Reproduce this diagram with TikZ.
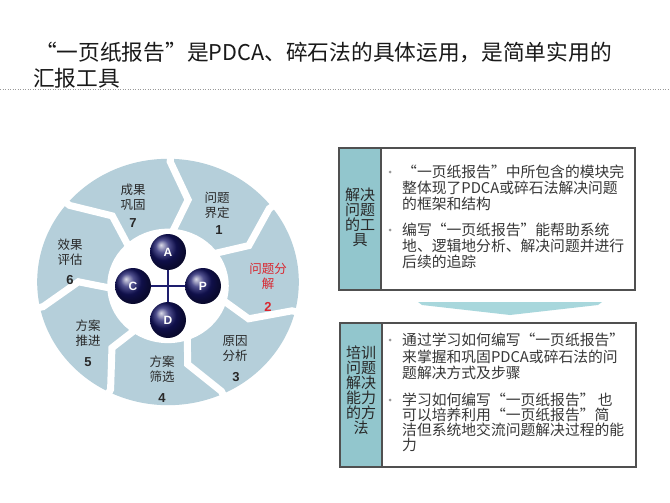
\documentclass[tikz,border=0pt]{standalone}
\usepackage{fontspec}
\setmainfont{Noto Sans CJK SC}
\newfontfamily\arialf{Liberation Sans}
\definecolor{segfill}{RGB}{181,207,218}
\definecolor{tealcell}{RGB}{146,198,205}
\definecolor{arrowfill}{RGB}{168,215,220}
\definecolor{navyball}{RGB}{22,22,105}
\definecolor{navyline}{RGB}{30,30,110}
\definecolor{redtxt}{RGB}{217,38,47}
\definecolor{txtdark}{RGB}{40,40,40}
\definecolor{bodytxt}{RGB}{55,55,55}
\definecolor{boxborder}{RGB}{80,80,80}
\begin{document}
\begin{tikzpicture}[x=1pt,y=-1pt,
  titletxt/.style={font=\fontsize{21.7}{24}\selectfont, text=black!90, inner sep=0, anchor=west},
  segtxt/.style={font=\fontsize{12.5}{15}\selectfont, text=txtdark, align=center, inner sep=0},
  segnum/.style={font=\arialf\bfseries\fontsize{13}{13}\selectfont, text=txtdark, inner sep=0},
  ballnode/.style={circle, minimum size=36pt, inner sep=0, shading=ball, ball color=navyball, text=white, font=\arialf\bfseries\fontsize{12}{12}\selectfont},
  crossline/.style={draw=navyline, line width=1.6pt},
  gapline/.style={draw=white, line width=7pt, line join=miter, line cap=butt},
  boxframe/.style={draw=boxborder, line width=1.3pt},
  celltxt/.style={font=\fontsize{15}{15}\selectfont, text=txtdark, align=center, inner sep=0},
  bodyline/.style={font=\fontsize{14.8}{16}\selectfont, text=bodytxt, inner sep=0, anchor=west},
  bulletdot/.style={circle, fill=gray!80, inner sep=0, minimum size=3pt},
  dotline/.style={draw=gray!80, line width=0.8pt, dash pattern=on 1.2pt off 1.3pt}
]
\useasboundingbox (0,0) rectangle (670,503);
\fill[white] (0,0) rectangle (670,503);

% title
\node[titletxt] (t1) at (35,52) {“一页纸报告”是PDCA、碎石法的具体运用，是简单实用的};
\node[titletxt] (t2) at (33,78) {汇报工具};
\coordinate (dl) at (0,89);
\coordinate (dr) at (670,89);
\draw[dotline] (dl) -- (dr);

% ring
\begin{scope}[shift={(168,282)}, x=1.03pt, y=0.97pt]
  \fill[segfill] (0,0) circle (127);
  \fill[white] (0,-4) circle (59);
  \foreach \k in {0,...,6} {
    \pgfmathsetmacro{\a}{89-51.4286*\k}
    \draw[gapline] (\a:140) -- (\a:124) -- ({\a-12}:87) -- ({\a-3}:50);
  }
\end{scope}

% segment labels
\node[segtxt] (s7) at (133,197) {成果\\巩固};
\node[segnum] (n7) at (133,223) {7};
\node[segtxt] (s1) at (217,205) {问题\\界定};
\node[segnum] (n1) at (219,230) {1};
\node[segtxt, text=redtxt] (s2) at (268,276) {问题分\\解};
\node[segnum, text=redtxt] (n2) at (268,307) {2};
\node[segtxt] (s3) at (235,349) {原因\\分析};
\node[segnum] (n3) at (236,377) {3};
\node[segtxt] (s4) at (162,369.5) {方案\\筛选};
\node[segnum] (n4) at (162,398) {4};
\node[segtxt] (s5) at (88,333) {方案\\推进};
\node[segnum] (n5) at (88,362) {5};
\node[segtxt] (s6) at (70,252) {效果\\评估};
\node[segnum] (n6) at (70,280) {6};

% PDCA balls
\node[ballnode] (A) at (168,252) {A};
\node[ballnode] (D) at (168,320) {D};
\node[ballnode] (C) at (133,286) {C};
\node[ballnode] (P) at (203,286) {P};
\draw[crossline] (C) -- (P);
\draw[crossline] (A) -- (D);

% box 1
\fill[tealcell] (339,148) rectangle (381,290);
\draw[boxframe] (339,148) rectangle (635,290);
\draw[boxframe] (381,148) -- (381,290);
\node[celltxt] (c1) at (360,217.5) {解决\\问题\\的工\\具};
\node[bulletdot] (d1) at (390,172) {};
\node[bodyline] (b1a) at (402,172) {“一页纸报告”中所包含的模块完};
\node[bodyline] (b1b) at (402,188) {整体现了PDCA或碎石法解决问题};
\node[bodyline] (b1c) at (402,204) {的框架和结构};
\node[bulletdot] (d2) at (390,230) {};
\node[bodyline] (b1d) at (402,230) {编写“一页纸报告”能帮助系统};
\node[bodyline] (b1e) at (402,246) {地、逻辑地分析、解决问题并进行};
\node[bodyline] (b1f) at (402,262) {后续的追踪};

% down arrow
\fill[arrowfill] (418,302) -- (602,302) -- (598,305) -- (510,315) -- (422,305) -- cycle;

% box 2
\fill[tealcell] (340,323) rectangle (382,467);
\draw[boxframe] (340,323) rectangle (636,467);
\draw[boxframe] (382,323) -- (382,467);
\node[celltxt] (c2) at (361,390.5) {培训\\问题\\解决\\能力\\的方\\法};
\node[bulletdot] (d3) at (390,340) {};
\node[bodyline] (b2a) at (402,340) {通过学习如何编写“一页纸报告”};
\node[bodyline] (b2b) at (402,357) {来掌握和巩固PDCA或碎石法的问};
\node[bodyline] (b2c) at (402,373) {题解决方式及步骤};
\node[bulletdot] (d4) at (390,400) {};
\node[bodyline] (b2d) at (402,400) {学习如何编写“一页纸报告” 也};
\node[bodyline] (b2e) at (402,415) {可以培养利用“一页纸报告”简};
\node[bodyline] (b2f) at (402,430) {洁但系统地交流问题解决过程的能};
\node[bodyline] (b2g) at (402,445) {力};
\end{tikzpicture}
\end{document}
